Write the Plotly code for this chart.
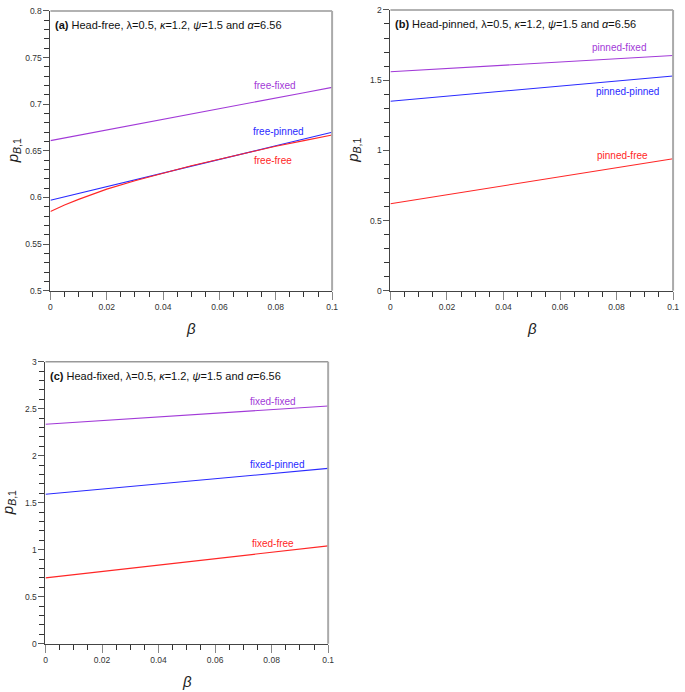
import plotly.graph_objects as go

beta = [0.0, 0.005, 0.01, 0.02, 0.03, 0.04, 0.05, 0.06, 0.07, 0.08, 0.09, 0.1]

# (a) Head-free
free_fixed = [0.661, 0.6638, 0.6667, 0.6724, 0.678, 0.6838, 0.6895, 0.6952, 0.7009, 0.7066, 0.7123, 0.718]
free_pinned = [0.597, 0.6007, 0.6043, 0.6116, 0.6189, 0.6262, 0.6335, 0.6408, 0.6481, 0.6554, 0.6627, 0.670]
free_free = [0.585, 0.592, 0.598, 0.609, 0.618, 0.6262, 0.634, 0.641, 0.648, 0.655, 0.661, 0.667]

# (b) Head-pinned
pinned_fixed = [1.560, 1.566, 1.571, 1.583, 1.594, 1.606, 1.618, 1.629, 1.641, 1.652, 1.664, 1.675]
pinned_pinned = [1.350, 1.359, 1.368, 1.386, 1.404, 1.422, 1.440, 1.458, 1.476, 1.494, 1.512, 1.530]
pinned_free = [0.620, 0.636, 0.652, 0.684, 0.716, 0.748, 0.780, 0.812, 0.844, 0.876, 0.908, 0.940]

# (c) Head-fixed
fixed_fixed = [2.335, 2.345, 2.355, 2.374, 2.394, 2.413, 2.433, 2.452, 2.472, 2.491, 2.511, 2.530]
fixed_pinned = [1.590, 1.604, 1.618, 1.645, 1.673, 1.700, 1.728, 1.755, 1.783, 1.810, 1.838, 1.865]
fixed_free = [0.700, 0.717, 0.734, 0.768, 0.802, 0.836, 0.870, 0.904, 0.938, 0.972, 1.006, 1.040]

x_ticks = [0, 0.02, 0.04, 0.06, 0.08, 0.1]
x_ticklabels = ["0", "0.02", "0.04", "0.06", "0.08", "0.1"]

panel_titles = [
    "<b>(a)</b> Head-free, λ=0.5, <i>κ</i>=1.2, <i>ψ</i>=1.5 and <i>α</i>=6.56",
    "<b>(b)</b> Head-pinned, λ=0.5, <i>κ</i>=1.2, <i>ψ</i>=1.5 and <i>α</i>=6.56",
    "<b>(c)</b> Head-fixed, λ=0.5, <i>κ</i>=1.2, <i>ψ</i>=1.5 and <i>α</i>=6.56",
]

PURPLE = "#A23AD8"
BLUE = "#2A2AFF"
RED = "#FF2626"
FONT = "Liberation Sans, Arial, sans-serif"

panels = [
    dict(series=[(free_fixed, PURPLE, "free-fixed", 0.0796, 0.7197),
                 (free_pinned, BLUE, "free-pinned", 0.081, 0.671),
                 (free_free, RED, "free-free", 0.079, 0.6395)],
         yrange=[0.5, 0.8], yminor=0.01,
         yticks=[0.5, 0.55, 0.6, 0.65, 0.7, 0.75, 0.8],
         ylabels=["0.5", "0.55", "0.6", "0.65", "0.7", "0.75", "0.8"],
         xdom=[49/685, 334/685], ydom=[1-290/692, 1-6/692]),
    dict(series=[(pinned_fixed, PURPLE, "pinned-fixed", 0.081, 1.733),
                 (pinned_pinned, BLUE, "pinned-pinned", 0.084, 1.418),
                 (pinned_free, RED, "pinned-free", 0.082, 0.961)],
         yrange=[0, 2], yminor=0.1,
         yticks=[0, 0.5, 1, 1.5, 2],
         ylabels=["0", "0.5", "1", "1.5", "2"],
         xdom=[393/685, 679/685], ydom=[1-290/692, 1-5/692]),
    dict(series=[(fixed_fixed, PURPLE, "fixed-fixed", 0.0804, 2.58),
                 (fixed_pinned, BLUE, "fixed-pinned", 0.082, 1.909),
                 (fixed_free, RED, "fixed-free", 0.0804, 1.07)],
         yrange=[0, 3], yminor=0.1,
         yticks=[0, 0.5, 1, 1.5, 2, 2.5, 3],
         ylabels=["0", "0.5", "1", "1.5", "2", "2.5", "3"],
         xdom=[44/685, 330/685], ydom=[1-648/692, 1-362/692]),
]

fig = go.Figure()
annotations = []
shapes = []
layout = {}

for i, p in enumerate(panels):
    n = "" if i == 0 else str(i + 1)
    xa, ya = "x" + n, "y" + n
    for vals, col, name, lx, ly in p["series"]:
        fig.add_trace(go.Scatter(x=beta, y=vals, mode="lines", line=dict(color=col, width=1.1),
                                 xaxis=xa, yaxis=ya, showlegend=False,
                                 name=name, hoverinfo="skip"))
        annotations.append(dict(x=lx, y=ly, xref=xa, yref=ya, text=name, showarrow=False,
                                font=dict(family=FONT, size=10, color=col),
                                xanchor="center", yanchor="middle"))
    layout["xaxis" + n] = dict(
        domain=p["xdom"], anchor=ya, range=[0, 0.1], tickvals=x_ticks, ticktext=x_ticklabels,
        ticks="outside", ticklen=8, tickwidth=1, tickcolor="#888",
        showline=True, linecolor="#444", linewidth=1, showgrid=False, zeroline=False,
        tickfont=dict(family=FONT, size=8.5, color="#333"),
        minor=dict(dtick=0.005, tick0=0, ticks="outside", ticklen=5, tickcolor="#333", tickwidth=1, showgrid=False),
    )
    layout["yaxis" + n] = dict(
        domain=p["ydom"], anchor=xa, range=p["yrange"], tickvals=p["yticks"], ticktext=p["ylabels"],
        ticks="outside", ticklen=6, tickwidth=1, tickcolor="#555",
        showline=True, linecolor="#444", linewidth=1, showgrid=False, zeroline=False,
        tickfont=dict(family=FONT, size=8.5, color="#333"),
        minor=dict(dtick=p["yminor"], tick0=0, ticks="outside", ticklen=5, tickcolor="#333", tickwidth=1, showgrid=False),
    )
    # top and right frame (gray)
    shapes.append(dict(type="line", xref=xa + " domain", yref=ya + " domain", x0=0, x1=1, y0=1, y1=1,
                       line=dict(color="#999", width=1.5)))
    shapes.append(dict(type="line", xref=xa + " domain", yref=ya + " domain", x0=1, x1=1, y0=0, y1=1,
                       line=dict(color="#aaa", width=2)))
    # panel title
    annotations.append(dict(x=0, y=1, xref=xa + " domain", yref=ya + " domain", text=panel_titles[i],
                            showarrow=False, xanchor="left", yanchor="top", xshift=3, yshift=-6,
                            font=dict(family=FONT, size=11, color="#111")))
    # axis titles
    annotations.append(dict(x=0.5, y=0, xref=xa + " domain", yref=ya + " domain", text="<i>β</i>",
                            showarrow=False, xanchor="center", yanchor="middle", yshift=-38,
                            font=dict(family=FONT, size=15, color="#222")))
    annotations.append(dict(x=0, y=0.5, xref=xa + " domain", yref=ya + " domain",
                            text="<i>p</i><sub><i>B</i>,1</sub>", textangle=-90,
                            showarrow=False, xanchor="center", yanchor="middle", xshift=-37,
                            font=dict(family=FONT, size=15, color="#222")))

fig.update_layout(
    width=685, height=692, margin=dict(l=0, r=0, t=0, b=0),
    paper_bgcolor="white", plot_bgcolor="white",
    annotations=annotations, shapes=shapes, **layout,
)

fig.write_html("out.html", config={"displayModeBar": False},
               post_script="document.body.style.margin='0';document.body.style.overflow='hidden';")
